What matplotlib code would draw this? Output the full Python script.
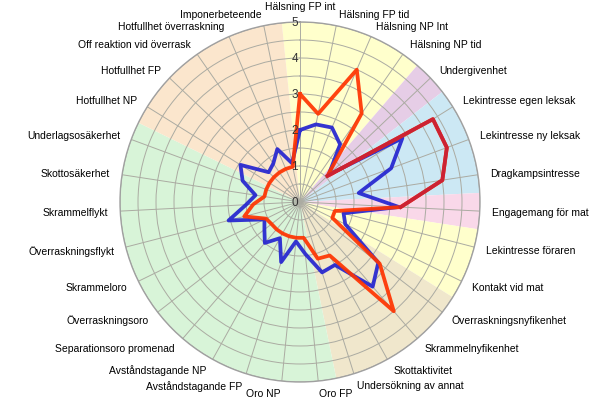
import numpy as np
import matplotlib
matplotlib.use('Agg')
import matplotlib.pyplot as plt

plt.rcParams['font.family'] = ['Liberation Sans', 'DejaVu Sans']

CATEGORIES = [
    'Hälsning FP int', 'Hälsning FP tid', 'Hälsning NP Int', 'Hälsning NP tid',
    'Undergivenhet', 'Lekintresse egen leksak', 'Lekintresse ny leksak',
    'Dragkampsintresse', 'Engagemang för mat', 'Lekintresse föraren',
    'Kontakt vid mat', 'Överraskningsnyfikenhet', 'Skrammelnyfikenhet',
    'Skottaktivitet', 'Undersökning av annat', 'Oro FP', 'Oro NP',
    'Avståndstagande FP', 'Avståndstagande NP', 'Separationsoro promenad',
    'Överraskningsoro', 'Skrammeloro', 'Överraskningsflykt', 'Skrammelflykt',
    'Skottosäkerhet', 'Underlagsosäkerhet', 'Hotfullhet NP', 'Hotfullhet FP',
    'Off reaktion vid överrask', 'Hotfullhet överraskning', 'Imponerbeteende',
]
RED_VALUES = [3.0, 2.5, 4.0, 3.0, 1.05, 4.35, 4.35, 4.0, 2.8, 1.0, 1.0,
              2.8, 4.0, 1.7, 1.65, 1.0, 1.0, 1.0, 1.0, 1.0, 1.0, 1.05,
              1.6, 1.3, 1.0, 1.0, 1.0, 1.0, 1.0, 1.0, 1.0]
BLUE_VALUES = [2.0, 2.2, 2.25, 1.95, 1.1, 3.35, 2.7, 1.65, 2.75, 1.25, 1.4,
               2.75, 3.1, 2.0, 2.05, 1.45, 1.1, 1.75, 1.15, 1.5, 1.25, 1.1,
               2.05, 1.5, 1.25, 1.7, 1.95, 1.2, 1.3, 1.6, 1.1]
# background sectors: number of categories per group, clockwise from the top
SECTOR_SIZES = [4, 1, 3, 1, 2, 4, 11, 5]
SECTOR_COLORS = ['#FFFFCC', '#E6CDE6', '#CCE8F4', '#F9D8E9',
                 '#FFFFCC', '#F0E7CC', '#D8F4D8', '#FBE6CD']
R_TICKS = [0, 1, 2, 3, 4, 5]
R_MAX = 5

n = len(CATEGORIES)
step = 2 * np.pi / n
theta = np.arange(n) * step

fig = plt.figure(figsize=(6.0, 4.02), dpi=100)
ax = fig.add_axes([0.2, 0.0473, 0.6, 0.8955], projection='polar')
ax.set_theta_zero_location('N')
ax.set_theta_direction(-1)
ax.set_ylim(0, R_MAX)

# färgade sektorer
start = 0
for size, col in zip(SECTOR_SIZES, SECTOR_COLORS):
    a0 = (start - 0.5) * step
    w = size * step
    ax.bar(a0 + w / 2, R_MAX, width=w, bottom=0, color=col,
           edgecolor='none', zorder=0.5)
    start += size

ax.set_xticks(theta)
ax.set_xticklabels([])
ax.set_yticks(np.arange(0.5, R_MAX + 0.01, 0.5))
ax.set_yticklabels([])
ax.grid(True, color='#ABABA2', linewidth=0.7)
ax.spines['polar'].set_color('#A0A0A0')
ax.spines['polar'].set_linewidth(1.0)

th_c = np.append(theta, theta[0])
ax.plot(th_c, np.append(BLUE_VALUES, BLUE_VALUES[0]), color='#2424D0',
        lw=2.7, alpha=0.92, zorder=3)
ax.plot(th_c, np.append(RED_VALUES, RED_VALUES[0]), color='#FF3300',
        lw=2.7, alpha=0.92, zorder=4)
# mörkare röd i lek-sektorn
ax.plot(theta[4:9], RED_VALUES[4:9], color='#CC2233', lw=2.7, zorder=4.5)

for t, lab in zip(theta, CATEGORIES):
    s = np.sin(t)
    ha = 'center' if abs(s) < 1e-6 else ('left' if s > 0 else 'right')
    rr = R_MAX * (196 if ha == 'center' else 192) / 180
    ax.text(t, rr, lab, ha=ha, va='center', fontsize=7.5,
            color='black', clip_on=False)

for r in R_TICKS:
    ax.annotate(str(r), xy=(0, r), xytext=(-1.5, 0),
                textcoords='offset points', ha='right', va='center',
                fontsize=8.5, color='#333333', zorder=6)

fig.savefig('out.png', dpi=100)
